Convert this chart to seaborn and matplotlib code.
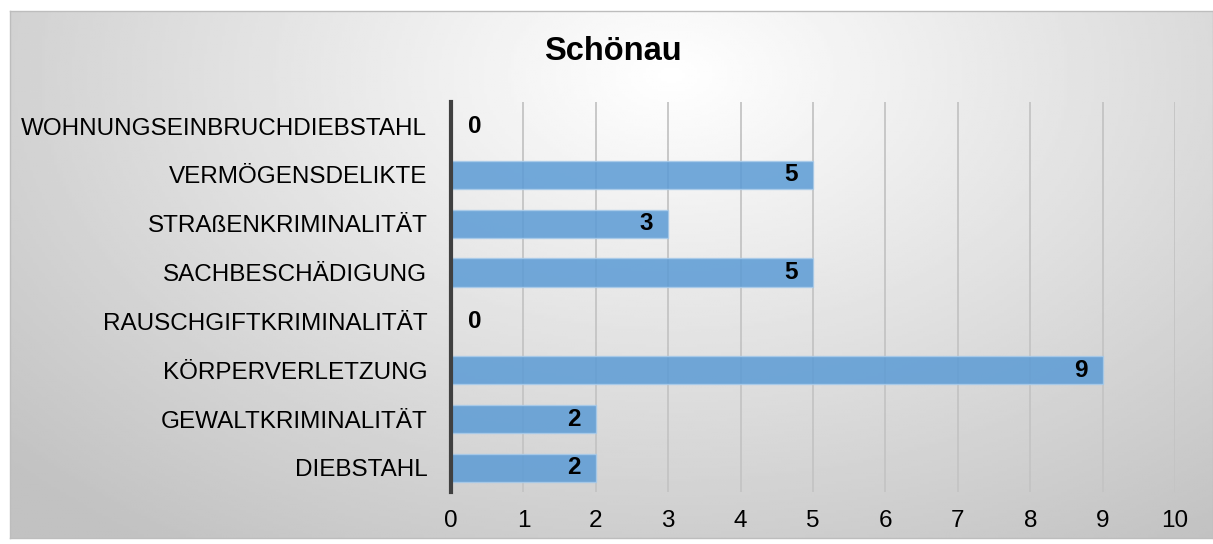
import matplotlib
matplotlib.use("Agg")
import matplotlib.pyplot as plt
import seaborn as sns
import numpy as np
import pandas as pd

categories = ["WOHNUNGSEINBRUCHDIEBSTAHL", "VERMÖGENSDELIKTE", "STRAßENKRIMINALITÄT",
              "SACHBESCHÄDIGUNG", "RAUSCHGIFTKRIMINALITÄT", "KÖRPERVERLETZUNG",
              "GEWALTKRIMINALITÄT", "DIEBSTAHL"]
counts = [0, 5, 3, 5, 0, 9, 2, 2]
x_ticks = list(range(0, 11))
title = "Schönau"

df = pd.DataFrame({"Delikt": categories, "Anzahl": counts})

sns.set_theme(style="white")
plt.rcParams['font.family'] = ['Liberation Sans', 'DejaVu Sans']

fig = plt.figure(figsize=(12.13, 5.44), dpi=100)
fig.patch.set_facecolor("white")

# radial grey background like the office chart
bg = fig.add_axes([10/1213, 6/544, 1203/1213, 527/544])
gx, gy = np.meshgrid(np.linspace(0, 1, 400), np.linspace(0, 1, 200))
r = np.sqrt(((gx - 0.55) / 0.75) ** 2 + ((gy - 0.12) / 1.1) ** 2)
shade = 1.0 - 0.24 * np.clip(r, 0, 1)
bg.imshow(shade, cmap="gray", vmin=0, vmax=1, aspect="auto", extent=[0, 1, 0, 1], origin="upper")
bg.set_xticks([])
bg.set_yticks([])
for s in bg.spines.values():
    s.set_color("#bdbdbd")
    s.set_linewidth(1)
bg.set_zorder(0)

ax = fig.add_axes([451/1213, 1 - 492.4/544, (1175 - 451)/1213, (492.4 - 101.6)/544])
ax.set_zorder(1)
ax.patch.set_alpha(0)

sns.barplot(data=df, y="Delikt", x="Anzahl", orient="h", ax=ax, color="#5b9bd5",
            saturation=1, alpha=0.85, width=0.58, edgecolor="#a9cbea", linewidth=1, zorder=3)

ax.set_xlim(0, 10)
ax.set_xticks(x_ticks)
ax.set_xticklabels([str(t) for t in x_ticks], fontsize=17.5, color="black")
ax.tick_params(axis="x", length=0, pad=13)
ax.tick_params(axis="y", length=0, pad=17, labelsize=17.5, labelcolor="black")
ax.set_xlabel("")
ax.set_ylabel("")
ax.grid(axis="x", color="#c4c4c4", linewidth=1.3, zorder=1)
ax.grid(axis="y", visible=False)
ax.set_axisbelow(True)

for name in ["top", "right", "bottom"]:
    ax.spines[name].set_visible(False)
ax.spines["left"].set_color("#404040")
ax.spines["left"].set_linewidth(3)
ax.spines["left"].set_zorder(5)

for i, v in enumerate(counts):
    if v == 0:
        ax.annotate(str(v), (v, i), xytext=(12, 0), textcoords="offset points",
                    ha="left", va="center", fontsize=17.5, fontweight="bold", color="black", zorder=6)
    else:
        ax.annotate(str(v), (v, i), xytext=(-11, 0), textcoords="offset points",
                    ha="right", va="center", fontsize=17.5, fontweight="bold", color="black", zorder=6)

fig.text(0.505, 1 - 52/544, title, ha="center", va="center", fontsize=23.5, fontweight="bold", color="black")

fig.savefig("out.png", dpi=100)
